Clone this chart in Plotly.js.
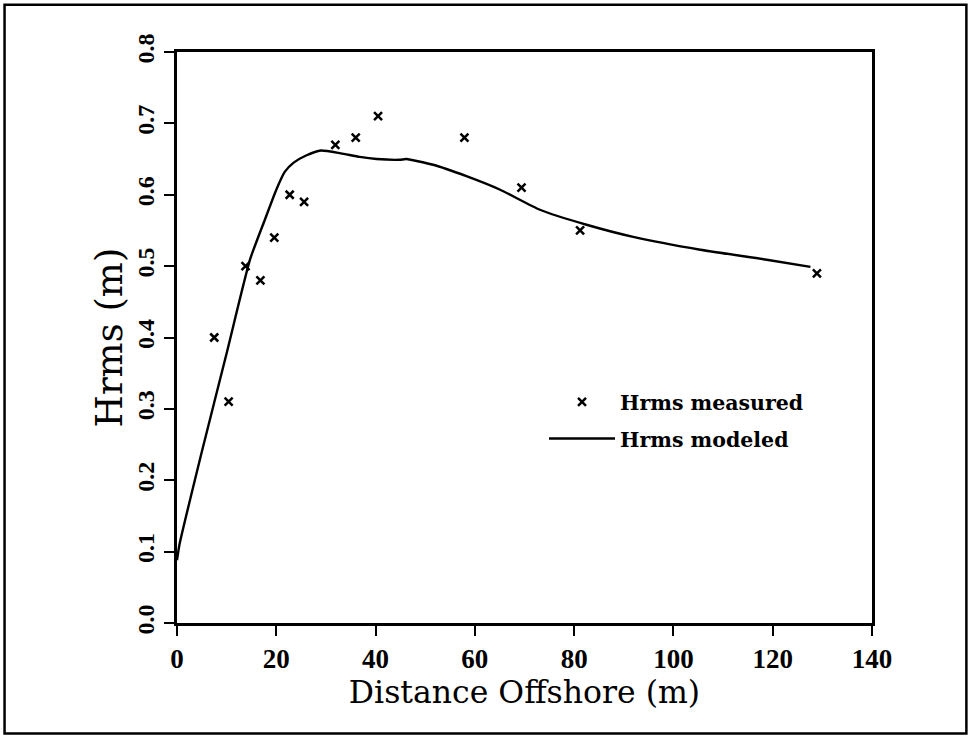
<!DOCTYPE html>
<html>
<head>
<meta charset="utf-8">
<script src="https://cdn.plot.ly/plotly-3.0.1.min.js"></script>
<style>
html,body{margin:0;padding:0;background:#fff;}
#chart{width:972px;height:736px;}
</style>
</head>
<body>
<div id="chart"></div>
<script>
// Measured wave heights
const measuredX = [7.5, 10.4, 13.8, 16.8, 19.6, 22.7, 25.6, 31.9, 36.0, 40.5, 57.9, 69.4, 81.2, 128.9];
const measuredY = [0.40, 0.31, 0.50, 0.48, 0.54, 0.60, 0.59, 0.67, 0.68, 0.71, 0.68, 0.61, 0.55, 0.49];

// Modeled wave heights (curve)
const modeledX = [0, 0.5, 5, 10, 14.7, 17.7, 20, 21.7, 23.5, 26, 29, 33, 36.8, 40.2, 44.9, 46.2, 51.6, 58.3, 65.1, 73.1, 82.5, 91.9, 105.4, 118.8, 127.6];
const modeledY = [0.088, 0.11, 0.240, 0.378, 0.509, 0.565, 0.607, 0.632, 0.645, 0.655, 0.662, 0.658, 0.653, 0.650, 0.649, 0.650, 0.642, 0.626, 0.607, 0.579, 0.558, 0.541, 0.523, 0.509, 0.499];

const xTicks = [0, 20, 40, 60, 80, 100, 120, 140];
const yTicks = [0.0, 0.1, 0.2, 0.3, 0.4, 0.5, 0.6, 0.7, 0.8];

const legendFont = {family: 'DejaVu Serif', size: 20.5, color: '#000', weight: 'bold'};

const traces = [
  {
    x: measuredX, y: measuredY,
    type: 'scatter', mode: 'markers',
    name: '<b>Hrms measured</b>',
    legendgroup: 'a',
    marker: {symbol: 'x-thin', size: 8, color: '#000', line: {color: '#000', width: 2.5}},
    cliponaxis: false
  },
  {
    x: modeledX, y: modeledY,
    type: 'scatter', mode: 'lines',
    name: '<b>Hrms modeled</b>',
    legendgroup: 'b',
    line: {color: '#000', width: 2.4, shape: 'spline', smoothing: 0.5},
    cliponaxis: false
  }
];

// outer frame in paper coordinates (plot area: x 177.3..871.7, y 52.3..622.7)
const PL = 177.3, PW = 694.4, PB = 622.7, PH = 570.4;
function px(v){ return (v - PL) / PW; }
function py(v){ return (PB - v) / PH; }

const layout = {
  width: 972, height: 736,
  paper_bgcolor: '#fff', plot_bgcolor: '#fff',
  margin: {l: 177.3, r: 100.3, t: 52.3, b: 113.3, pad: 0},
  showlegend: true,
  legend: {
    x: px(544), y: py(382), xanchor: 'left', yanchor: 'top',
    bgcolor: 'rgba(0,0,0,0)', borderwidth: 0,
    font: legendFont, itemwidth: 66, tracegroupgap: 7
  },
  xaxis: {
    range: [0, 140], tickvals: xTicks, ticktext: xTicks.map(String),
    showgrid: false, zeroline: false,
    showline: true, linecolor: '#000', linewidth: 3, mirror: true,
    ticks: 'outside', ticklen: 10, tickwidth: 2, tickcolor: '#000',
    tickfont: {family: 'Liberation Serif', size: 27, color: '#000', weight: 'bold'},
    title: {text: 'Distance Offshore (m)', font: {family: 'DejaVu Serif', size: 31.5, color: '#000'}, standoff: 8},
    automargin: false
  },
  yaxis: {
    range: [0, 0.8], tickvals: yTicks, ticktext: yTicks.map(v => v.toFixed(1)),
    showgrid: false, zeroline: false,
    showline: true, linecolor: '#000', linewidth: 3, mirror: true,
    ticks: 'outside', ticklen: 10, tickwidth: 2, tickcolor: '#000',
    tickangle: -90,
    tickfont: {family: 'Liberation Serif', size: 24, color: '#000', weight: 'bold'},
    title: {text: 'Hrms (m)', font: {family: 'DejaVu Serif', size: 37, color: '#000'}, standoff: 0},
    automargin: false
  },
  shapes: [
    {type: 'rect', xref: 'paper', yref: 'paper',
     x0: px(5), x1: px(966), y0: py(733), y1: py(5),
     line: {color: '#000', width: 2.5}, fillcolor: 'rgba(0,0,0,0)', layer: 'below'}
  ]
};

Plotly.newPlot('chart', traces, layout, {displayModeBar: false, staticPlot: true});
</script>
</body>
</html>
